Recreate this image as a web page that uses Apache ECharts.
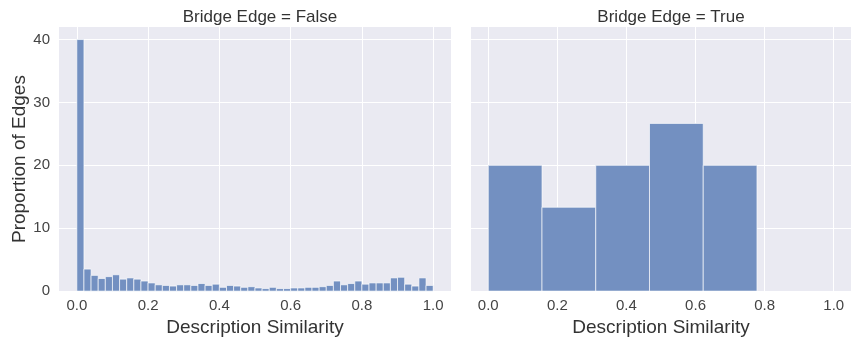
<!DOCTYPE html>
<html>
<head>
<meta charset="utf-8">
<script src="https://cdn.jsdelivr.net/npm/echarts@6/dist/echarts.min.js"></script>
<style>
html,body{margin:0;padding:0;background:#fff;}
#chart{width:854px;height:342px;}
</style>
</head>
<body>
<div id="chart"></div>
<script>
// ---- data ----
const panelTitles = ['Bridge Edge = False', 'Bridge Edge = True'];
const xTickLabels = ['0.0', '0.2', '0.4', '0.6', '0.8', '1.0'];
const yTickLabels = ['0', '10', '20', '30', '40'];
const xAxisTitle = 'Description Similarity';
const yAxisTitle = 'Proportion of Edges';

// Bridge Edge = False : 50 equal bins over [0, 1], percent of edges
const falseRange = [0, 1];
const falseHeights = [40.0, 3.5, 2.5, 2.0, 2.3, 2.6, 1.9, 2.1, 1.9, 1.6,
                      1.3, 1.0, 0.9, 0.8, 1.0, 1.0, 0.9, 1.2, 0.9, 1.1,
                      0.6, 0.9, 0.8, 0.6, 0.7, 0.5, 0.4, 0.6, 0.4, 0.4,
                      0.5, 0.5, 0.6, 0.6, 0.7, 0.9, 1.6, 1.0, 1.2, 1.6,
                      1.1, 1.3, 1.3, 1.3, 2.1, 2.2, 1.1, 0.8, 2.1, 0.9];

// Bridge Edge = True : 5 equal bins over [0, 0.7778]
const trueRange = [0, 0.7778];
const trueHeights = [20.0, 13.333, 20.0, 26.667, 20.0];

// ---- build ----
function binsToData(range, heights) {
  const n = heights.length, w = (range[1] - range[0]) / n;
  return heights.map((h, i) => [range[0] + i * w, range[0] + (i + 1) * w, h]);
}

const BAR = '#7390c1';
const BG = '#eaeaf2';
const FONT = '"Liberation Sans", Arial, sans-serif';

function renderHist(params, api) {
  const x0 = api.value(0), x1 = api.value(1), y = api.value(2);
  const p0 = api.coord([x0, y]);
  const p1 = api.coord([x1, 0]);
  return {
    type: 'rect',
    shape: { x: p0[0], y: p0[1], width: p1[0] - p0[0], height: p1[1] - p0[1] },
    style: { fill: BAR, stroke: 'rgba(255,255,255,0.8)', lineWidth: 0.8 }
  };
}

const xLabelSet = new Set(xTickLabels);
function xFmt(v) {
  const s = (Math.round(v * 100) / 100).toFixed(1);
  const isMajor = Math.abs(v * 5 - Math.round(v * 5)) < 1e-6;
  return (isMajor && xLabelSet.has(s)) ? s : '';
}
const yLabelSet = new Set(yTickLabels);
function yFmt(v) {
  const s = String(Math.round(v));
  return (Math.abs(v - Math.round(v)) < 1e-6 && yLabelSet.has(s) && v % 10 === 0) ? s : '';
}

function xAxisCfg(gridIndex) {
  return {
    type: 'value', gridIndex: gridIndex,
    min: -0.05, max: 1.05, interval: 0.05,
    name: xAxisTitle, nameLocation: 'middle', nameGap: 23,
    nameTextStyle: { fontFamily: FONT, fontSize: 19, color: '#333' },
    axisLine: { show: false }, axisTick: { show: false },
    axisLabel: { formatter: xFmt, fontFamily: FONT, fontSize: 15, color: '#444', margin: 7, showMinLabel: true, showMaxLabel: true, hideOverlap: false },
    splitLine: { show: true, lineStyle: { color: ['rgba(0,0,0,0)', '#ffffff', 'rgba(0,0,0,0)', 'rgba(0,0,0,0)'], width: 1 } }
  };
}
function yAxisCfg(gridIndex, showLabels) {
  return {
    type: 'value', gridIndex: gridIndex,
    min: 0, max: 42, interval: 10,
    name: showLabels ? yAxisTitle : '', nameLocation: 'middle', nameGap: 29,
    nameTextStyle: { fontFamily: FONT, fontSize: 19, color: '#333' },
    axisLine: { show: false }, axisTick: { show: false },
    axisLabel: { show: showLabels, formatter: yFmt, fontFamily: FONT, fontSize: 15, color: '#444', margin: 9 },
    splitLine: { show: true, lineStyle: { color: ['#ffffff', '#ffffff', '#ffffff', '#ffffff', '#ffffff', 'rgba(0,0,0,0)'], width: 1 } }
  };
}

const chart = echarts.init(document.getElementById('chart'), null, { renderer: 'canvas' });
chart.setOption({
  animation: false,
  backgroundColor: '#ffffff',
  title: [
    { text: panelTitles[0], left: 255, top: 4, textAlign: 'center',
      textStyle: { fontFamily: FONT, fontSize: 17, fontWeight: 'normal', color: '#333' } },
    { text: panelTitles[1], left: 666, top: 4, textAlign: 'center',
      textStyle: { fontFamily: FONT, fontSize: 17, fontWeight: 'normal', color: '#333' } }
  ],
  grid: [
    { left: 59, top: 27, width: 392, height: 270, show: true, backgroundColor: BG, borderWidth: 0 },
    { left: 471, top: 27, width: 391, height: 270, show: true, backgroundColor: BG, borderWidth: 0 }
  ],
  xAxis: [xAxisCfg(0), xAxisCfg(1)],
  yAxis: [yAxisCfg(0, true), yAxisCfg(1, false)],
  series: [
    { type: 'custom', xAxisIndex: 0, yAxisIndex: 0, renderItem: renderHist,
      encode: { x: [0, 1], y: 2 }, data: binsToData(falseRange, falseHeights) },
    { type: 'custom', xAxisIndex: 1, yAxisIndex: 1, renderItem: renderHist,
      encode: { x: [0, 1], y: 2 }, data: binsToData(trueRange, trueHeights) }
  ]
});
</script>
</body>
</html>
